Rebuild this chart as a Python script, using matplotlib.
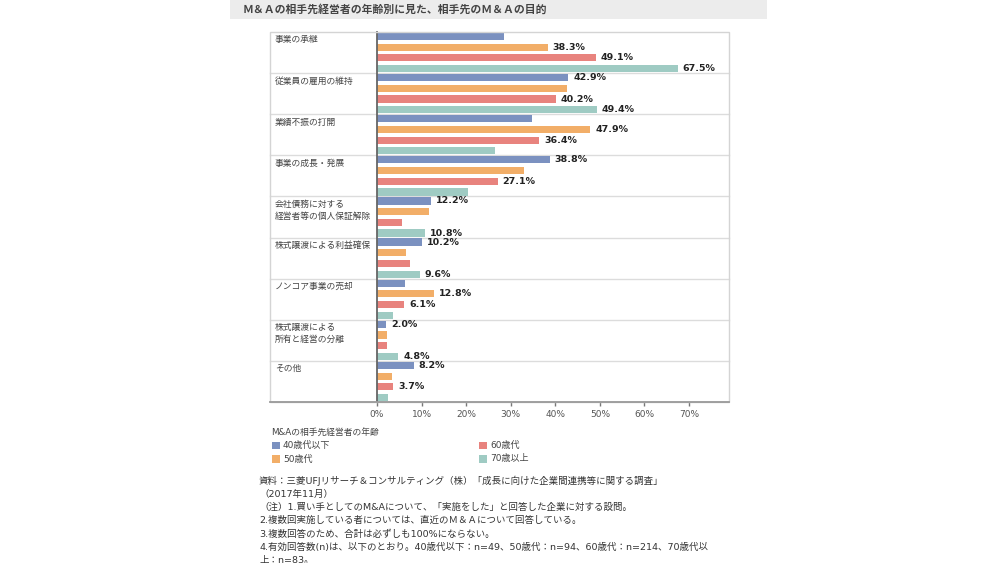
import matplotlib
matplotlib.use("Agg")
from matplotlib import pyplot as plt
from matplotlib.patches import Rectangle
from matplotlib.lines import Line2D

plt.rcParams['font.family'] = ['Noto Sans CJK JP', 'DejaVu Sans']
MIXED = ['DejaVu Sans', 'Noto Sans CJK JP']

title = "Ｍ＆Ａの相手先経営者の年齢別に見た、相手先のＭ＆Ａの目的"

categories = [
    "事業の承継",
    "従業員の雇用の維持",
    "業績不振の打開",
    "事業の成長・発展",
    "会社債務に対する\n経営者等の個人保証解除",
    "株式譲渡による利益確保",
    "ノンコア事業の売却",
    "株式譲渡による\n所有と経営の分離",
    "その他",
]

series_names = ["40歳代以下", "50歳代", "60歳代", "70歳以上"]

# values in %, unlabelled ones
age_40s = [28.6, 42.9, 34.8, 38.8, 12.2, 10.2, 6.2, 2.0, 8.2]
age_50s = [38.3, 42.6, 47.9, 33.0, 11.7, 6.5, 12.8, 2.2, 3.3]
age_60s = [49.1, 40.2, 36.4, 27.1, 5.7, 7.5, 6.1, 2.3, 3.7]
age_70s = [67.5, 49.4, 26.5, 20.5, 10.8, 9.6, 3.7, 4.8, 2.5]

# which bars carry a value label in the original
show_40s = [False, True, False, True, True, True, False, True, True]
show_50s = [True, False, True, False, False, False, True, False, False]
show_60s = [True, True, True, True, False, False, True, False, True]
show_70s = [True, True, False, False, True, True, False, True, False]

xticks = [0, 10, 20, 30, 40, 50, 60, 70]

colors = ["#7b91c0", "#f2ae68", "#e8837e", "#9fcbc3"]

W, H = 1000, 563
fig = plt.figure(figsize=(10, 5.63), dpi=100)


def fx(px):
    return px / W


def fy(py):
    return 1 - py / H


# title band
fig.patches.append(Rectangle((fx(230), fy(19)), fx(767) - fx(230), fy(0) - fy(19),
                             transform=fig.transFigure, facecolor="#ececec",
                             edgecolor="none", zorder=0))
fig.text(fx(243), fy(9.5), title, fontsize=7.8, fontweight="bold", color="#444444",
         va="center", ha="left")

# outer box around labels + plot
box_l, box_r, box_t, box_b = 270, 729, 32, 402
fig.patches.append(Rectangle((fx(box_l), fy(box_b)), fx(box_r) - fx(box_l), fy(box_t) - fy(box_b),
                             transform=fig.transFigure, facecolor="none",
                             edgecolor="#d4d4d4", linewidth=1.0, zorder=1))

ax_l = 377
ax = fig.add_axes([fx(ax_l), fy(box_b), fx(box_r) - fx(ax_l), fy(box_t) - fy(box_b)])
ax.patch.set_alpha(0)

all_series = [age_40s, age_50s, age_60s, age_70s]
all_show = [show_40s, show_50s, show_60s, show_70s]
n = len(categories)
pitch = 0.26
for j, (vals, shows) in enumerate(zip(all_series, all_show)):
    ys = [i + (j - 1.5) * pitch for i in range(n)]
    ax.barh(ys, vals, height=0.175, color=colors[j], zorder=3)
    for y, v, s in zip(ys, vals, shows):
        if s:
            ax.annotate(f"{v:.1f}%", (v, y), xytext=(3.5, 0), textcoords="offset points",
                        va="center", ha="left", fontsize=6.8, fontweight="bold",
                        color="#222222", family="DejaVu Sans")

ax.set_ylim(n - 0.5, -0.5)
ax.set_xlim(0, (box_r - ax_l) / 4.457)

# group separators, reaching into the label column
left_frac = -(ax_l - box_l) / (box_r - ax_l)
for i in range(1, n):
    ax.plot([left_frac, 1], [i - 0.5, i - 0.5], transform=ax.get_yaxis_transform(),
            color="#dcdcdc", linewidth=1.0, clip_on=False, zorder=1)

# category labels
for i, cat in enumerate(categories):
    ax.text(-(ax_l - 275) / (box_r - ax_l), i - 0.42, cat,
            transform=ax.get_yaxis_transform(), fontsize=6.3, color="#444444",
            ha="left", va="top", linespacing=1.45)

for side in ["top", "right", "bottom"]:
    ax.spines[side].set_visible(False)
ax.spines["left"].set_color("#666666")
ax.spines["left"].set_linewidth(1.3)
ax.spines["left"].set_zorder(4)
ax.set_yticks([])

# bottom line across whole box
fig.add_artist(Line2D([fx(box_l), fx(box_r)], [fy(box_b), fy(box_b)],
                      transform=fig.transFigure, color="#9a9a9a", linewidth=1.3, zorder=5))

ax.set_xticks(xticks)
ax.set_xticklabels([f"{t}%" for t in xticks], family="DejaVu Sans")
ax.tick_params(axis="x", length=3, width=1, color="#777777", labelsize=6.5,
               labelcolor="#555555", pad=3)

# legend
fig.text(fx(271), fy(433), "M&Aの相手先経営者の年齢", fontsize=6.3, color="#444444",
         va="center", ha="left", family=MIXED)
leg_pos = [(272, 445.5), (272, 459), (479, 445.5), (479, 459)]
for (lx, ly), name, c in zip(leg_pos, series_names, colors):
    fig.patches.append(Rectangle((fx(lx), fy(ly + 3.8)), fx(7.5), 7.5 / H,
                                 transform=fig.transFigure, facecolor=c, edgecolor="none"))
    fig.text(fx(lx + 11), fy(ly), name, fontsize=6.5, color="#444444",
             va="center", ha="left", family=MIXED)

# source / notes
notes = [
    "資料：三菱UFJリサーチ＆コンサルティング（株）「成長に向けた企業間連携等に関する調査」",
    "（2017年11月）",
    "（注）1.買い手としてのM&Aについて、「実施をした」と回答した企業に対する設問。",
    "2.複数回実施している者については、直近のＭ＆Ａについて回答している。",
    "3.複数回答のため、合計は必ずしも100%にならない。",
    "4.有効回答数(n)は、以下のとおり。40歳代以下：n=49、50歳代：n=94、60歳代：n=214、70歳代以",
    "上：n=83。",
]
for k, line in enumerate(notes):
    fig.text(fx(259), fy(481 + k * 13.2), line, fontsize=6.8, color="#333333",
             va="center", ha="left", family=MIXED)

fig.savefig("out.png", dpi=100, facecolor="white")
